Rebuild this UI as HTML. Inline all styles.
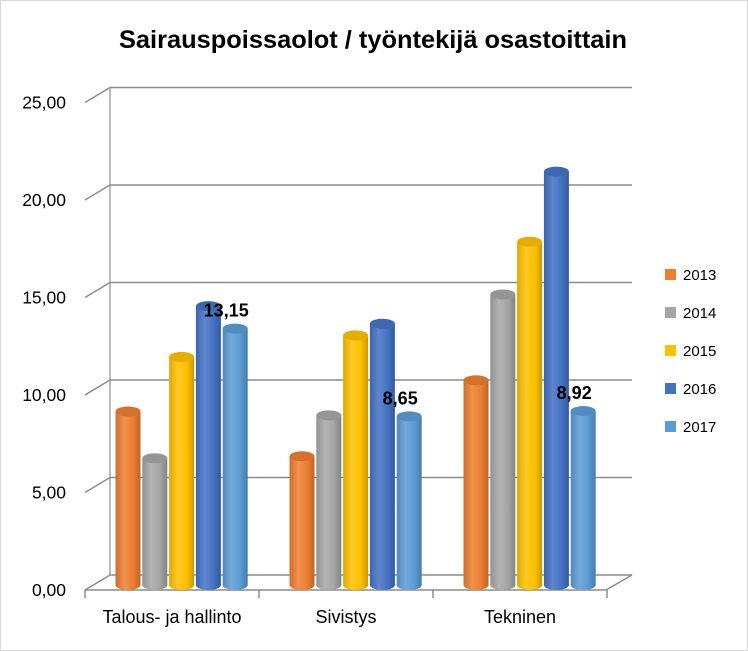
<!DOCTYPE html>
<html><head><meta charset="utf-8"><style>
body{margin:0;background:#fff;}
svg{display:block;font-family:"Liberation Sans",Arial,sans-serif;}
</style></head><body>
<svg id="chart" width="748" height="651" xmlns="http://www.w3.org/2000/svg">
<defs id="defs"></defs>
<rect x="0.5" y="0.5" width="747" height="650" fill="#fff" stroke="#d9d9d9"/>
<text x="373" y="48" text-anchor="middle" font-size="25" font-weight="bold" fill="#000" textLength="508" lengthAdjust="spacingAndGlyphs">Sairauspoissaolot / työntekijä osastoittain</text>
<g id="axes"></g>
<g id="bars"></g>
<g id="labels"></g>
<g id="legend"></g>
</svg>
<script>
const categories=["Talous- ja hallinto","Sivistys","Tekninen"];
const years=["2013","2014","2015","2016","2017"];
const colors=["#ED7D31","#A5A5A5","#FFC000","#4472C4","#5B9BD5"];
const s2013=[8.9,6.6,10.5];
const s2014=[6.5,8.7,14.9];
const s2015=[11.7,12.8,17.6];
const s2016=[14.3,13.4,21.2];
const s2017=[13.15,8.65,8.92];
const series=[s2013,s2014,s2015,s2016,s2017];
const ticks=[0,5,10,15,20,25];
const tickLabels=["0,00","5,00","10,00","15,00","20,00","25,00"];
const dataLabels=["13,15","8,65","8,92"];

const NS="http://www.w3.org/2000/svg";
const scale=19.5;
const yFront=v=>590-v*scale, yBack=v=>575-v*scale, yBar=v=>585-v*scale;
const groupX=i=>85+i*174;
const barX=(g,s)=>groupX(g)+43+s*26.8;
function mk(tag,attrs,parent){const e=document.createElementNS(NS,tag);for(const k in attrs)e.setAttribute(k,attrs[k]);parent.appendChild(e);return e;}
const axes=document.getElementById('axes');
mk('line',{x1:110,y1:yBack(25),x2:110,y2:yBack(0),stroke:'#a6a6a6','stroke-width':1.5},axes);
ticks.forEach((t,i)=>{
  const g=mk('g',{},axes);
  
  
  mk('line',{x1:110,y1:yBack(t),x2:632,y2:yBack(t),stroke:'#8c8c8c','stroke-width':1.5},g);
  mk('line',{x1:85,y1:yFront(t),x2:110,y2:yBack(t),stroke:'#8c8c8c','stroke-width':1.5},g);
  const tx=mk('text',{x:66,y:yFront(t)+6,'text-anchor':'end','font-size':17.5,fill:'#000'},axes);
  tx.textContent=tickLabels[i];
  
  
});
mk('line',{x1:85,y1:590,x2:606,y2:590,stroke:'#8c8c8c','stroke-width':1.5},axes);
mk('line',{x1:606,y1:590,x2:632,y2:575,stroke:'#8c8c8c','stroke-width':1.5},axes);
for(let i=0;i<=3;i++)mk('line',{x1:85+i*174,y1:590,x2:85+i*174,y2:598,stroke:'#8c8c8c','stroke-width':1.5},axes);
categories.forEach((c,i)=>{
  const tx=mk('text',{x:groupX(i)+87,y:623,'text-anchor':'middle','font-size':18,fill:'#000'},axes);
  tx.textContent=c;
  
  
});
const defs=document.getElementById('defs');
function shade(hex,f){const n=parseInt(hex.slice(1),16);let r=n>>16,g=(n>>8)&255,b=n&255;const m=x=>Math.max(0,Math.min(255,Math.round(f<0?x*(1+f):x+(255-x)*f)));return `rgb(${m(r)},${m(g)},${m(b)})`;}
colors.forEach((c,i)=>{
  const lg=mk('linearGradient',{id:'g'+i,x1:0,x2:1,y1:0,y2:0},defs);
  mk('stop',{offset:'0',"stop-color":shade(c,-0.12)},lg);
  mk('stop',{offset:'0.35',"stop-color":shade(c,0.15)},lg);
  mk('stop',{offset:'0.7',"stop-color":c},lg);
  mk('stop',{offset:'1',"stop-color":shade(c,-0.2)},lg);
});
const bars=document.getElementById('bars');
const w=25,ry=5;
series.forEach((arr,s)=>{
  arr.forEach((v,g)=>{
    const cx=barX(g,s),top=yBar(v),bot=yBar(0);
    const grp=mk('g',{},bars);
    
    
    mk('ellipse',{cx:cx,cy:bot,rx:w/2,ry:ry,fill:'url(#g'+s+')'},grp);
    mk('rect',{x:cx-w/2,y:top,width:w,height:bot-top,fill:'url(#g'+s+')'},grp);
    mk('ellipse',{cx:cx,cy:top,rx:w/2,ry:ry,fill:shade(colors[s],-0.1)},grp);
  });
});
const labels=document.getElementById('labels');
s2017.forEach((v,g)=>{
  const tx=mk('text',{x:barX(g,4)-9,y:yBar(v)-12,'text-anchor':'middle','font-size':18,'font-weight':'bold',fill:'#000'},labels);
  tx.textContent=dataLabels[g];
  
  
});
const legend=document.getElementById('legend');
years.forEach((y,i)=>{
  const grp=mk('g',{},legend);
  
  
  const yy=275+i*38;
  mk('rect',{x:665,y:yy-6,width:11,height:11,fill:colors[i]},grp);
  const tx=mk('text',{x:683,y:yy+5,'font-size':15,fill:'#000'},grp);
  tx.textContent=y;
});
</script>
</body></html>
